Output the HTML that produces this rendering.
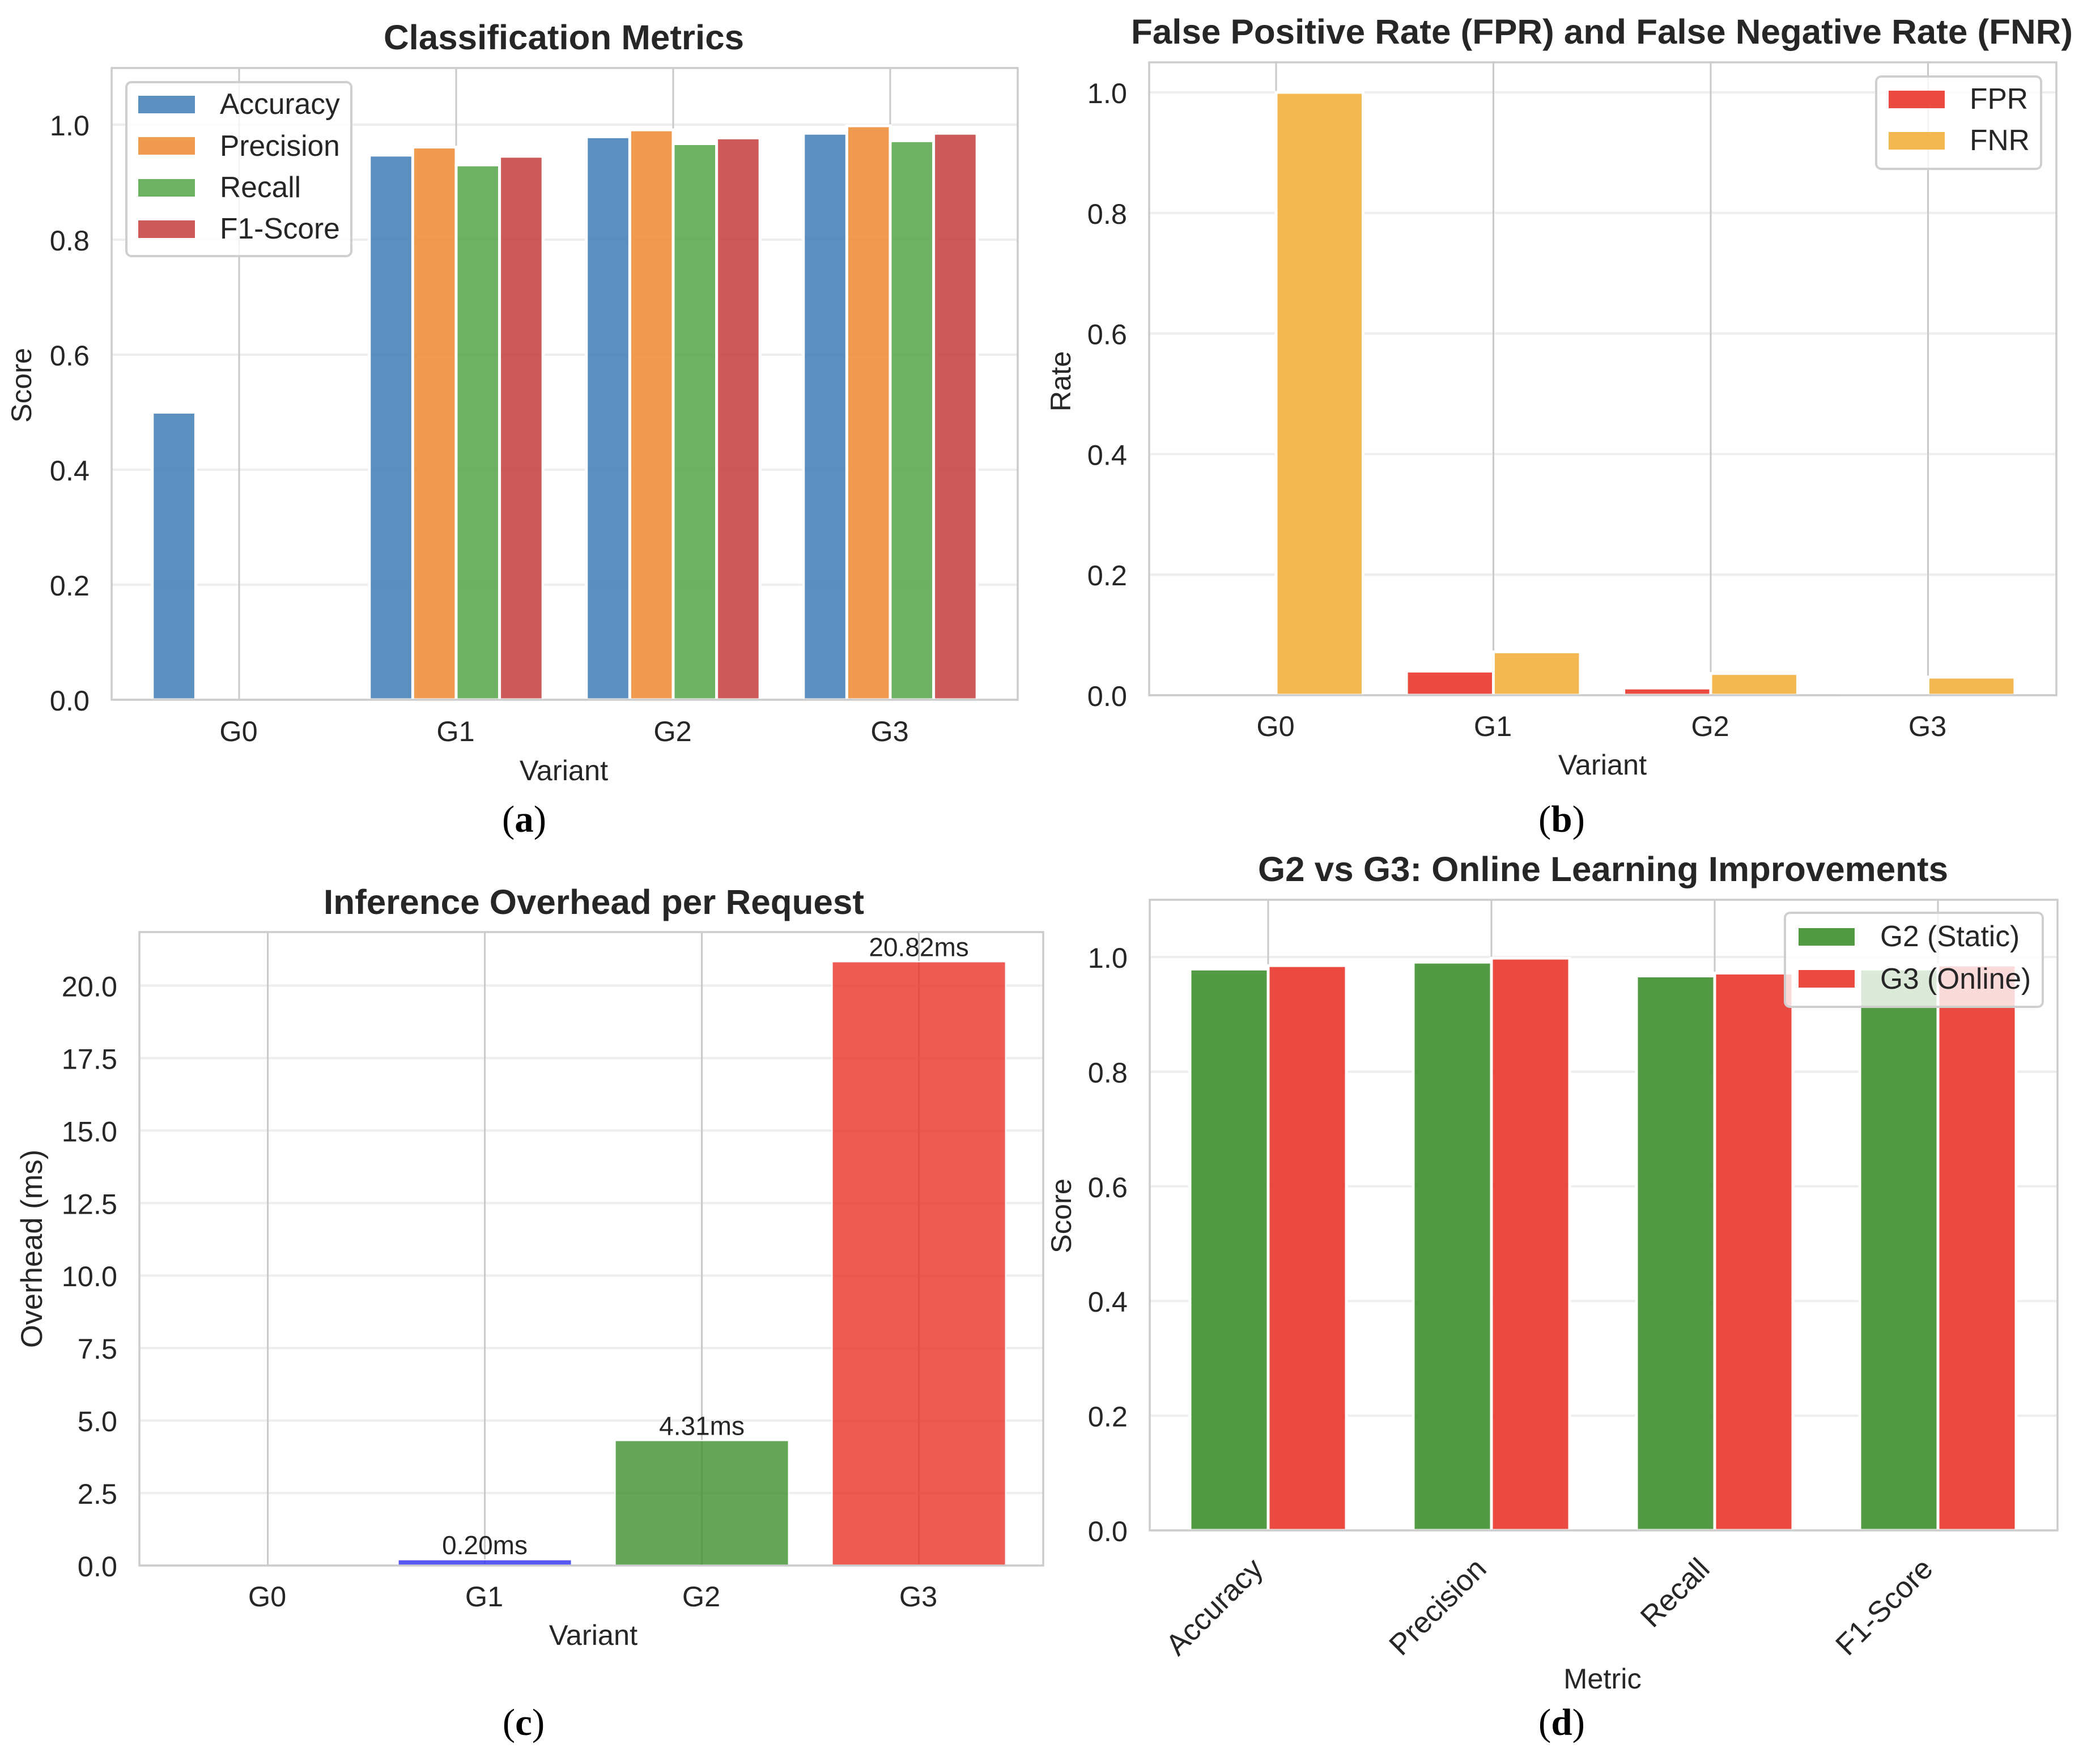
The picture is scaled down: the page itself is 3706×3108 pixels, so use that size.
<!DOCTYPE html>
<html lang="en">
<head>
<meta charset="utf-8">
<title>Classification, error rate and overhead comparison</title>
<style>
html,body{margin:0;padding:0;background:#fff;}
svg{display:block;}
text{font-family:"Liberation Sans",Arial,sans-serif;fill:#262626;}
.tick,.lab{font-size:50.5px;}
.leg{font-size:51.5px;}
.val{font-size:46px;}
.ttl{font-size:61px;font-weight:bold;text-anchor:middle;}
.lab{text-anchor:middle;}
.cap{font-family:"Liberation Serif","Times New Roman",serif;font-size:67px;text-anchor:middle;fill:#000;}
.cap tspan{font-family:"Liberation Serif","Times New Roman",serif;fill:#000;}
.spine{fill:none;stroke:#cccccc;stroke-width:3.5;}
.legbox{fill:#fff;fill-opacity:.8;stroke:#cfcfcf;stroke-width:4;}
</style>
</head>
<body>
<svg xmlns="http://www.w3.org/2000/svg" width="3706" height="3108" viewBox="0 0 3706 3108">
<rect width="3706" height="3108" fill="#fff"/>

<g>
  <text class="ttl" x="995" y="87" textLength="636" lengthAdjust="spacingAndGlyphs">Classification Metrics</text>
  <g id="marks-a"></g>
  <rect class="spine" x="197" y="120" width="1599" height="1115"/>
  <text class="lab" transform="rotate(-90 55 680)" x="55" y="680">Score</text>
  <text class="lab" x="995" y="1377">Variant</text>
  <g>
    <rect class="legbox" x="223" y="145" width="397" height="307" rx="9"/>
    <rect x="244" y="169" width="100" height="31" fill="#3e7bb4" fill-opacity=".85"/>
    <text class="leg" x="388" y="201">Accuracy</text>
    <rect x="244" y="242" width="100" height="31" fill="#ed8a31" fill-opacity=".85"/>
    <text class="leg" x="388" y="275">Precision</text>
    <rect x="244" y="316" width="100" height="31" fill="#53a446" fill-opacity=".85"/>
    <text class="leg" x="388" y="348">Recall</text>
    <rect x="244" y="389" width="100" height="31" fill="#c43d3b" fill-opacity=".85"/>
    <text class="leg" x="388" y="421">F1-Score</text>
  </g>
  <text class="cap" x="925" y="1468">(<tspan font-weight="bold">a</tspan>)</text>
</g>

<g>
  <text class="ttl" x="2827" y="77" textLength="1662" lengthAdjust="spacingAndGlyphs">False Positive Rate (FPR) and False Negative Rate (FNR)</text>
  <g id="marks-b"></g>
  <rect class="spine" x="2028" y="110" width="1601" height="1117"/>
  <text class="lab" transform="rotate(-90 1889 673)" x="1889" y="673">Rate</text>
  <text class="lab" x="2828" y="1367">Variant</text>
  <g>
    <rect class="legbox" x="3311" y="135" width="291" height="163" rx="9"/>
    <rect x="3333" y="160" width="99" height="31" fill="#e9362c" fill-opacity=".9"/>
    <text class="leg" x="3476" y="192">FPR</text>
    <rect x="3333" y="233" width="99" height="31" fill="#f2b03e" fill-opacity=".9"/>
    <text class="leg" x="3476" y="265">FNR</text>
  </g>
  <text class="cap" x="2756" y="1468">(<tspan font-weight="bold">b</tspan>)</text>
</g>

<g>
  <text class="ttl" x="1048" y="1613" textLength="954" lengthAdjust="spacingAndGlyphs">Inference Overhead per Request</text>
  <g id="marks-c"></g>
  <rect class="spine" x="246" y="1645" width="1595" height="1118"/>
  <text class="lab" style="font-size:52.5px" transform="rotate(-90 74 2204)" x="74" y="2204">Overhead (ms)</text>
  <text class="lab" x="1047" y="2903">Variant</text>
  <text class="cap" x="924" y="3062">(<tspan font-weight="bold">c</tspan>)</text>
</g>

<g>
  <text class="ttl" x="2829" y="1555" textLength="1218" lengthAdjust="spacingAndGlyphs">G2 vs G3: Online Learning Improvements</text>
  <g id="marks-d"></g>
  <rect class="spine" x="2029" y="1588" width="1602" height="1113"/>
  <text class="lab" transform="rotate(-90 1890 2146)" x="1890" y="2146">Score</text>
  <text class="lab" x="2828" y="2980">Metric</text>
  <g>
    <rect class="legbox" x="3150" y="1611" width="455" height="166" rx="9"/>
    <rect x="3174" y="1638" width="99" height="31" fill="#3f8f2f" fill-opacity=".9"/>
    <text class="leg" x="3318" y="1670">G2 (Static)</text>
    <rect x="3174" y="1712" width="99" height="31" fill="#e9362c" fill-opacity=".9"/>
    <text class="leg" x="3318" y="1745">G3 (Online)</text>
  </g>
  <text class="cap" x="2756" y="3062">(<tspan font-weight="bold">d</tspan>)</text>
</g>
</svg>

<script>
/* ---- chart data ---- */
const variants = ['G0', 'G1', 'G2', 'G3'];
const metricNames = ['Accuracy', 'Precision', 'Recall', 'F1-Score'];

const accuracyValues = [0.5, 0.947, 0.979, 0.985];
const precisionValues = [0, 0.961, 0.991, 0.998];
const recallValues = [0, 0.930, 0.967, 0.972];
const f1Values = [0, 0.945, 0.977, 0.985];

const fprValues = [0, 0.040, 0.012, 0.001];
const fnrValues = [1.0, 0.072, 0.036, 0.030];

const overheadValues = [0, 0.20, 4.31, 20.82];

const g2StaticValues = [0.979, 0.991, 0.967, 0.979];
const g3OnlineValues = [0.985, 0.998, 0.972, 0.986];

const unitTicks = [0, 0.2, 0.4, 0.6, 0.8, 1.0];
const overheadTicks = [0, 2.5, 5, 7.5, 10, 12.5, 15, 17.5, 20];

/* ---- helpers ---- */
const NS = 'http://www.w3.org/2000/svg';
function mk(parent, tag, attrs, txt) {
  const e = document.createElementNS(NS, tag);
  for (const k in attrs) e.setAttribute(k, attrs[k]);
  if (txt !== undefined) e.textContent = txt;
  parent.appendChild(e);
  return e;
}
function slug(s) { return String(s).toLowerCase().replace(/[^a-z0-9]+/g, '-'); }

function drawAxes(g, id, opt) {
  opt.yTicks.forEach(function (v) {
    const line = mk(g, 'line', {x1: opt.left, x2: opt.right, y1: opt.y(v), y2: opt.y(v), stroke: '#eeeeee', 'stroke-width': 4});
    
    
    const lab = mk(g, 'text', {class: 'tick', x: opt.tickRight, y: opt.y(v) + 19, 'text-anchor': 'end'}, v.toFixed(1));
    
    
  });
  opt.categories.forEach(function (c, i) {
    const line = mk(g, 'line', {x1: opt.x(i), x2: opt.x(i), y1: opt.top, y2: opt.bottom, stroke: '#c9c9c9', 'stroke-width': 3});
    
    
  });
}
function drawXLabels(g, id, categories, x, baseline) {
  categories.forEach(function (c, i) {
    const lab = mk(g, 'text', {class: 'tick', x: x(i) - 1, y: baseline, 'text-anchor': 'middle'}, c);
    
    
  });
}
function drawBar(g, cx, w, y0, yTop, fill, opacity, edge) {
  const bar = mk(g, 'rect', {
    x: cx - w / 2, y: Math.min(yTop, y0), width: w, height: Math.abs(y0 - yTop),
    fill: fill, 'fill-opacity': opacity, stroke: '#fff', 'stroke-width': edge
  });
  return bar;
}

/* ---- panel a ---- */
(function () {
  const g = document.getElementById('marks-a');
  const x = function (i) { return 422 + 383 * i; };
  const y = function (v) { return 1235 - 1015 * v; };
  drawAxes(g, 'panel-a', {left: 197, right: 1796, top: 120, bottom: 1235, tickRight: 158, x: x, y: y, yTicks: unitTicks, categories: variants});
  drawXLabels(g, 'panel-a', variants, x, 1308);
  const series = [accuracyValues, precisionValues, recallValues, f1Values];
  const colors = ['#3e7bb4', '#ed8a31', '#53a446', '#c43d3b'];
  const w = 76.6;
  series.forEach(function (vals, j) {
    vals.forEach(function (v, i) {
      if (v <= 0) return;
      const bar = drawBar(g, x(i) + (j - 1.5) * w, w, y(0), y(v), colors[j], 0.85, 5);
      
      
    });
  });
})();

/* ---- panel b ---- */
(function () {
  const g = document.getElementById('marks-b');
  const x = function (i) { return 2252 + 383.5 * i; };
  const y = function (v) { return 1227 - 1064 * v; };
  drawAxes(g, 'panel-b', {left: 2028, right: 3629, top: 110, bottom: 1227, tickRight: 1989, x: x, y: y, yTicks: unitTicks, categories: variants});
  drawXLabels(g, 'panel-b', variants, x, 1299);
  const w = 153.4;
  fprValues.forEach(function (v, i) {
    if (v <= 0) return;
    const bar = drawBar(g, x(i) - w / 2, w, y(0), y(v), '#e9362c', 0.9, 5);
    
    
  });
  fnrValues.forEach(function (v, i) {
    if (v <= 0) return;
    const bar = drawBar(g, x(i) + w / 2, w, y(0), y(v), '#f2b03e', 0.9, 5);
    
    
  });
})();

/* ---- panel c ---- */
(function () {
  const g = document.getElementById('marks-c');
  const x = function (i) { return 472.6 + 383 * i; };
  const y = function (v) { return 2763 - 51.18 * v; };
  drawAxes(g, 'panel-c', {left: 246, right: 1841, top: 1645, bottom: 2763, tickRight: 207, x: x, y: y, yTicks: overheadTicks, categories: variants});
  drawXLabels(g, 'panel-c', variants, x, 2835);
  const colors = ['#3f8e2e', '#2f2ff0', '#3f8e2e', '#ea3227'];
  overheadValues.forEach(function (v, i) {
    if (v <= 0) return;
    const bar = drawBar(g, x(i), 306, y(0), y(v), colors[i], 0.8, 2);
    
    
    const lab = mk(g, 'text', {class: 'val', x: x(i), y: y(v) - 10, 'text-anchor': 'middle'}, v.toFixed(2) + 'ms');
    
    
  });
})();

/* ---- panel d ---- */
(function () {
  const g = document.getElementById('marks-d');
  const x = function (i) { return 2238 + 394 * i; };
  const y = function (v) { return 2701 - 1012 * v; };
  drawAxes(g, 'panel-d', {left: 2029, right: 3631, top: 1588, bottom: 2701, tickRight: 1990, x: x, y: y, yTicks: unitTicks, categories: metricNames});
  const w = 138;
  g2StaticValues.forEach(function (v, i) {
    const bar = drawBar(g, x(i) - w / 2, w, y(0), y(v), '#3f8f2f', 0.9, 5);
    
    
  });
  g3OnlineValues.forEach(function (v, i) {
    const bar = drawBar(g, x(i) + w / 2, w, y(0), y(v), '#e9362c', 0.9, 5);
    
    
  });
  metricNames.forEach(function (c, i) {
    const px = x(i) - 6;
    const lab = mk(g, 'text', {class: 'tick', style: 'font-size:52.5px', x: px, y: 2772, 'text-anchor': 'end', transform: 'rotate(-45 ' + px + ' 2772)'}, c);
    
    
  });
})();
</script>
</body>
</html>
